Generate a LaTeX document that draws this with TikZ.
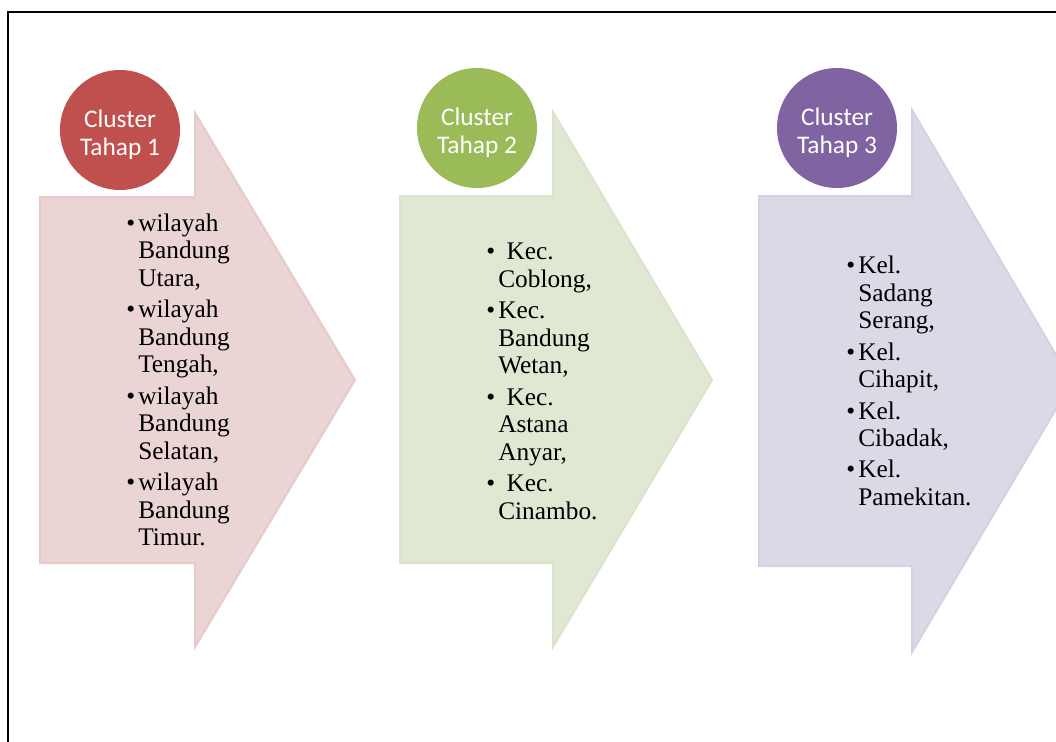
\documentclass[tikz,border=0pt]{standalone}
\usepackage{fontspec}
\setmainfont{Liberation Serif}
\newfontfamily\clusterfont{Carlito}
\usepackage{xcolor}
\usepackage{tikz}

\definecolor{redC}{HTML}{C0504D}
\definecolor{redA}{HTML}{EAD4D4}
\definecolor{redE}{HTML}{E6CBCB}
\definecolor{greenC}{HTML}{9BBB59}
\definecolor{greenA}{HTML}{E0E8D4}
\definecolor{greenE}{HTML}{DAE4CC}
\definecolor{purpleC}{HTML}{8064A2}
\definecolor{purpleA}{HTML}{DCD8E6}
\definecolor{purpleE}{HTML}{D5D0E3}

\newlength{\bind}
\setlength{\bind}{9pt}
\newcommand{\bitem}[1]{\par\noindent\hangindent=\bind\hangafter=1\makebox[\bind][l]{\textbullet}#1}
\newcommand{\lowstrut}{\rule{0pt}{20pt}}

\begin{document}
\begin{tikzpicture}[x=0.75pt,y=-0.75pt,
            chevron/.style = {line width=1.5pt, line join=miter},
            cluster/.style = {circle, inner sep=0pt, minimum size=90pt,
                        text=white, align=center,
                        font=\clusterfont\fontsize{19}{21}\selectfont},
            itemlist/.style = {anchor=west, inner sep=0pt, text width=130pt,
                        align=left, font=\fontsize{19}{20.6}\selectfont}]
            \useasboundingbox (0,0) rectangle (1056,742);
            \clip (0,0) rectangle (1056,742);
            % Frame
            \draw[line width=1pt] (8,12) rectangle (1080,760);
            % Arrow 1
            \filldraw[chevron, fill=redA, draw=redE] (40,197) -- (195,197) -- (195,113)
                -- (355,380) -- (195,647) -- (195,563) -- (40,563) -- cycle;
            % Arrow 2
            \filldraw[chevron, fill=greenA, draw=greenE] (400,196) -- (553,196) -- (553,112)
                -- (712,380) -- (553,647) -- (553,563) -- (400,563) -- cycle;
            % Arrow 3
            \filldraw[chevron, fill=purpleA, draw=purpleE] (759,196) -- (912,196) -- (912,110)
                -- (1072,382) -- (912,652) -- (912,566) -- (759,566) -- cycle;
            % Stage circles
            \node[cluster, fill=redC] (tahap1) at (120,130) {\lowstrut Cluster\\Tahap 1};
            \node[cluster, fill=greenC] (tahap2) at (477,128) {\lowstrut Cluster\\Tahap 2};
            \node[cluster, fill=purpleC] (tahap3) at (837,128) {\lowstrut Cluster\\Tahap 3};
            % Item lists
            \node[itemlist] (list1) at (126,373) {\setlength{\parskip}{3pt}%
                \bitem{wilayah\newline Bandung\newline Utara,}
                \bitem{wilayah\newline Bandung\newline Tengah,}
                \bitem{wilayah\newline Bandung\newline Selatan,}
                \bitem{wilayah\newline Bandung\newline Timur.}\par};
            \node[itemlist] (list2) at (486,374) {\setlength{\parskip}{3pt}%
                \bitem{\ Kec.\newline Coblong,}
                \bitem{Kec.\newline Bandung\newline Wetan,}
                \bitem{\ Kec.\newline Astana\newline Anyar,}
                \bitem{\ Kec.\newline Cinambo.}\par};
            \node[itemlist] (list3) at (846,374) {\setlength{\parskip}{3pt}%
                \bitem{Kel.\newline Sadang\newline Serang,}
                \bitem{Kel.\newline Cihapit,}
                \bitem{Kel.\newline Cibadak,}
                \bitem{Kel.\newline Pamekitan.}\par};
        \end{tikzpicture}
\end{document}
